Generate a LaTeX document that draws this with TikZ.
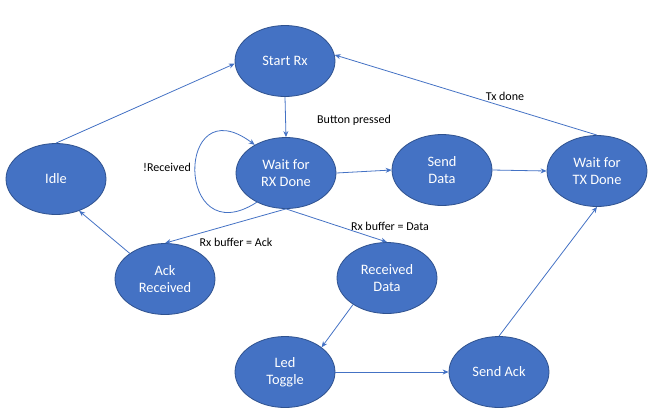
\documentclass[tikz,border=0pt]{standalone}
\usepackage{fontspec}
\setmainfont{Carlito}
\usetikzlibrary{shapes.geometric,arrows.meta}
\definecolor{nodeblue}{HTML}{4472C4}
\definecolor{nodeedge}{HTML}{2F528F}
\begin{document}
\begin{tikzpicture}[x=1pt,y=-1pt,
  state/.style={ellipse,draw=nodeedge,line width=0.8pt,fill=nodeblue,text=white,
    minimum width=100pt,minimum height=71pt,inner sep=0pt,align=center,
    font=\fontsize{14.4}{17.5}\selectfont},
  conn/.style={draw=nodeblue,line width=0.8pt,-{Stealth[length=6pt,width=5pt]}},
  lbl/.style={text=black,font=\fontsize{12}{14}\selectfont,inner sep=0pt}]
\useasboundingbox (0,0) rectangle (653,408);
\node[state] (start) at (285,61) {Start Rx};
\node[state] (wrx) at (286,173) {Wait for\\RX Done};
\node[state] (sd) at (442,170) {Send\\Data};
\node[state] (wtx) at (597,171) {Wait for\\TX Done};
\node[state] (idle) at (56,179) {Idle};
\node[state] (ack) at (165,279) {Ack\\Received};
\node[state] (rd) at (387,278) {Received\\Data};
\node[state] (led) at (285,372) {Led\\Toggle};
\node[state] (sa) at (499,372) {Send Ack};

\draw[conn] (idle.north) -- (start.183);
\draw[conn] (start.south) -- (wrx.north);
\draw[conn] (wtx.north) -- (start.7);
\draw[conn] (wrx.east) -- (sd.west);
\draw[conn] (sd.east) -- (wtx.west);
\draw[conn] (wrx.225) .. controls (175,255) and (175,85) .. (wrx.138);
\draw[conn] (wrx.south) -- (ack.north);
\draw[conn] (wrx.south) -- (rd.north);
\draw[conn] (ack.144) -- (idle.306);
\draw[conn] (rd.218) -- (led.34);
\draw[conn] (led.east) -- (sa.west);
\draw[conn] (sa.north) -- (wtx.south);

\node[lbl] (l1) at (354,120) {Button pressed};
\node[lbl] (l2) at (505,96) {Tx done};
\node[lbl] (l3) at (167,167) {!Received};
\node[lbl] (l4) at (236,242) {Rx buffer = Ack};
\node[lbl] (l5) at (390,226) {Rx buffer = Data};
\end{tikzpicture}
\end{document}
